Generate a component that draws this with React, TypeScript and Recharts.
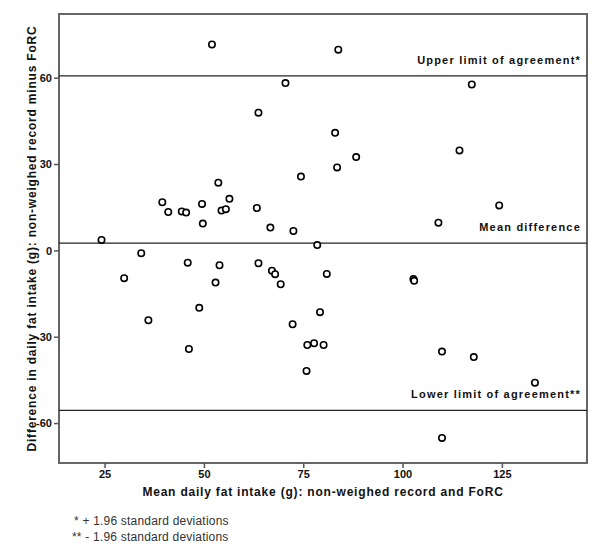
import {
  ReferenceArea,
  ReferenceLine,
  Scatter,
  ScatterChart,
  XAxis,
  YAxis,
} from "recharts";

// mean of the two methods (g) and difference (non-weighed minus FoRC, g)
const meanIntake = [
  51.9, 70.4, 63.6, 74.3, 53.5, 39.4, 40.9, 44.3, 45.4, 49.4,
  49.6, 54.3, 55.4, 56.3, 63.2, 66.6, 72.4, 24.1, 83.7, 117.3,
  82.9, 114.2, 88.2, 83.4, 124.2, 108.9, 78.4, 34.1, 29.8, 45.8,
  53.8, 63.6, 67.0, 67.8, 69.2, 52.8, 48.7, 35.9, 72.2, 46.1,
  75.9, 75.7, 80.8, 102.6, 102.8, 79.1, 77.6, 80.0, 109.8, 117.8,
  133.2, 109.8,
];
const difference = [
  71.7, 58.3, 48.0, 25.8, 23.7, 16.9, 13.5, 13.7, 13.3, 16.3,
  9.5, 14.0, 14.5, 18.1, 14.9, 8.1, 6.9, 3.8, 69.9, 57.8,
  41.0, 34.9, 32.6, 29.0, 15.8, 9.8, 2.0, -0.8, -9.5, -4.1,
  -5.0, -4.3, -6.9, -8.1, -11.6, -11.0, -19.8, -24.1, -25.5, -34.1,
  -32.7, -41.7, -8.0, -9.8, -10.4, -21.3, -32.1, -32.7, -35.0, -36.9,
  -45.8, -65.0,
];

const xTicks = [25, 50, 75, 100, 125];
const yTicks = [-60, -30, 0, 30, 60];
const xDomain = [13.4, 146.3];
const yDomain = [-73.7, 82.3];

const meanDifference = 2.7;
const upperLimit = 60.8;
const lowerLimit = -55.4;

const points = meanIntake.map((x, i) => ({ x, y: difference[i] }));

const FONT = "'Liberation Sans', Arial, sans-serif";

function OpenCircle(props: any) {
  const { cx, cy } = props;
  if (cx == null || cy == null) return null;
  return <circle cx={cx} cy={cy} r={3.2} fill="#fff" stroke="#000" strokeWidth={1.6} />;
}

function LineLabel(props: any) {
  const vb = props.viewBox || {};
  return (
    <text
      x={vb.x + vb.width - 6}
      y={vb.y - 12}
      textAnchor="end"
      fontFamily={FONT}
      fontSize={11}
      fontWeight="bold"
      letterSpacing={1.2}
      fill="#111"
    >
      {props.text}
    </text>
  );
}

function YTitle(props: any) {
  const vb = props.viewBox || {};
  const x = vb.x + 32;
  const y = vb.y + vb.height / 2;
  return (
    <text
      x={x}
      y={y}
      transform={`rotate(-90, ${x}, ${y})`}
      textAnchor="middle"
      dominantBaseline="central"
      fontFamily={FONT}
      fontSize={12}
      fontWeight="bold"
      letterSpacing={0.8}
      fill="#111"
    >
      Difference in daily fat intake (g): non-weighed record minus FoRC
    </text>
  );
}

function XTitle(props: any) {
  const vb = props.viewBox || {};
  return (
    <text
      x={vb.x + vb.width / 2}
      y={vb.y + 33}
      textAnchor="middle"
      fontFamily={FONT}
      fontSize={12}
      fontWeight="bold"
      letterSpacing={0.8}
      fill="#111"
    >
      Mean daily fat intake (g): non-weighed record and FoRC
    </text>
  );
}

const tickStyle = { fill: "#111", fontSize: 11, fontWeight: "bold", fontFamily: FONT };

export default function App() {
  return (
    <div style={{ position: "absolute", left: 0, top: 0, width: 600, height: 557, background: "#fff" }}>
      <ScatterChart width={600} height={557} margin={{ top: 14, right: 13, bottom: 0, left: 0 }}>
        <XAxis
          type="number"
          dataKey="x"
          domain={xDomain}
          ticks={xTicks}
          allowDataOverflow
          height={94}
          axisLine={false}
          tickLine={{ stroke: "#555", strokeWidth: 1.5 }}
          tickSize={5}
          tick={tickStyle}
          label={<XTitle />}
        />
        <YAxis
          type="number"
          dataKey="y"
          domain={yDomain}
          ticks={yTicks}
          allowDataOverflow
          width={59}
          axisLine={false}
          tickLine={{ stroke: "#555", strokeWidth: 1.5 }}
          tickSize={5}
          tick={tickStyle}
          label={<YTitle />}
        />
        <ReferenceArea
          x1={xDomain[0]}
          x2={xDomain[1]}
          y1={yDomain[0]}
          y2={yDomain[1]}
          fill="none"
          stroke="#666"
          strokeWidth={2}
          fillOpacity={0}
        />
        <ReferenceLine y={upperLimit} stroke="#222" strokeWidth={1.4} label={<LineLabel text="Upper limit of agreement*" />} />
        <ReferenceLine y={meanDifference} stroke="#222" strokeWidth={1.4} label={<LineLabel text="Mean difference" />} />
        <ReferenceLine y={lowerLimit} stroke="#222" strokeWidth={1.4} label={<LineLabel text="Lower limit of agreement**" />} />
        <Scatter data={points} shape={<OpenCircle />} isAnimationActive={false} />
      </ScatterChart>
      <div style={{ position: "absolute", left: 74, top: 513, fontFamily: FONT, fontSize: 12, letterSpacing: 0.2, color: "#333", lineHeight: "16px" }}>
        <div>* + 1.96 standard deviations</div>
        <div style={{ marginLeft: -2 }}>** - 1.96 standard deviations</div>
      </div>
    </div>
  );
}
